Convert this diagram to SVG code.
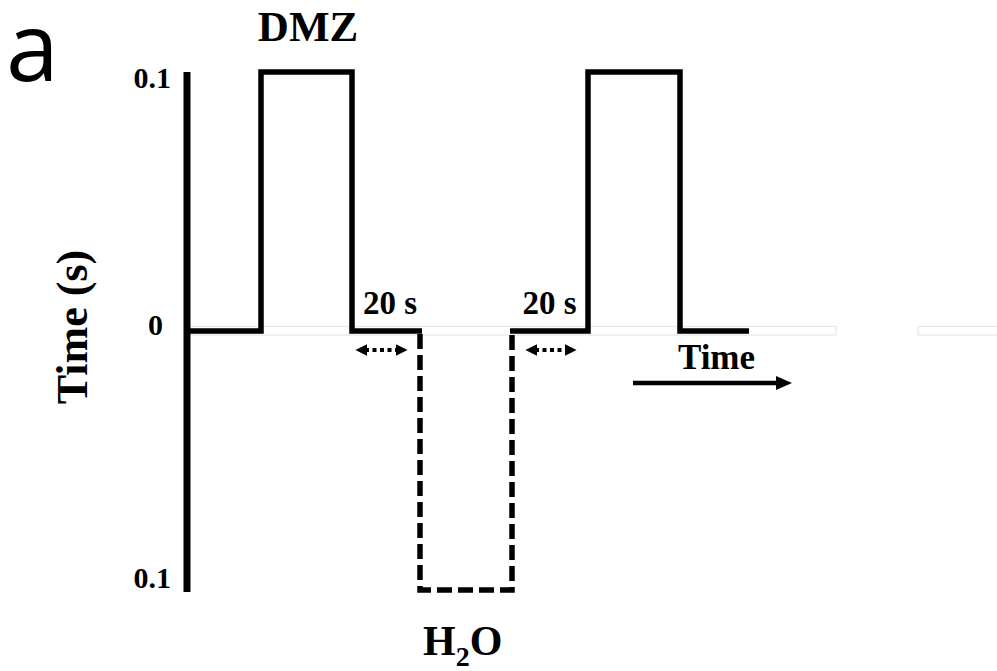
<svg xmlns="http://www.w3.org/2000/svg" width="997" height="671" viewBox="0 0 997 671">
<style>
.lbl{font-family:"Liberation Serif","Times New Roman",serif;font-weight:bold;fill:#000}
.wave{fill:none;stroke:#000;stroke-width:5.5;stroke-linejoin:miter}
.dash{fill:none;stroke:#000;stroke-width:5.5;stroke-dasharray:15 6}
.dot{stroke:#000;stroke-width:4;stroke-dasharray:4 3.5}
.faint{fill:none;stroke:#e6e6e6;stroke-width:1.2}
</style>
<defs>
<marker id="ah" viewBox="0 0 10 10" refX="2" refY="5" markerWidth="12" markerHeight="12" orient="auto-start-reverse" markerUnits="userSpaceOnUse">
<path d="M0,0 L10,5 L0,10 Z" fill="#000"/>
</marker>
</defs>
<rect width="997" height="671" fill="#fff"/>
<g id="background-guides">
<rect class="faint" x="190" y="326.5" width="646" height="8.5"/>
<rect class="faint" x="918" y="326.5" width="80" height="8.5"/>
</g>
<g id="panel-label"><text x="6" y="81" font-family="'Open Sans','Noto Sans',sans-serif" font-size="95" fill="#000">a</text></g>
<g id="y-axis">
<line x1="187" y1="72" x2="187" y2="592" stroke="#000" stroke-width="7"/>
<text class="lbl" x="171" y="88" font-size="30" text-anchor="end">0.1</text>
<text class="lbl" x="163" y="335" font-size="30" text-anchor="end">0</text>
<text class="lbl" x="171" y="588" font-size="30" text-anchor="end">0.1</text>
<text class="lbl" transform="translate(87,327) rotate(-90)" font-size="44" text-anchor="middle">Time (s)</text>
</g>
<g id="dmz-pulses">
<path class="wave" d="M190,331 H261 V72 H352 V331 H422"/>
<path class="wave" d="M510,331 H588 V72 H680 V331 H749"/>
<text class="lbl" x="308" y="41" font-size="43" text-anchor="middle">DMZ</text>
</g>
<g id="h2o-pulse">
<path class="dash" d="M420,334 V590 H512 V334"/>
<text class="lbl" x="423" y="655" font-size="42">H<tspan font-size="28" dy="11">2</tspan><tspan dy="-11">O</tspan></text>
</g>
<g id="connectors">
<line class="dot" x1="365" y1="350" x2="398" y2="350" marker-start="url(#ah)" marker-end="url(#ah)"/>
<line class="dot" x1="535" y1="350" x2="567" y2="350" marker-start="url(#ah)" marker-end="url(#ah)"/>
<line x1="633" y1="383" x2="780" y2="383" stroke="#000" stroke-width="4.5"/>
<polygon points="776,376 792,383 776,390" fill="#000"/>
</g>
<g id="interval-labels">
<text class="lbl" x="390" y="314" font-size="33" text-anchor="middle">20 s</text>
<text class="lbl" x="549.5" y="314" font-size="33" text-anchor="middle">20 s</text>
<text class="lbl" x="716.5" y="369" font-size="35" text-anchor="middle">Time</text>
</g>
</svg>
